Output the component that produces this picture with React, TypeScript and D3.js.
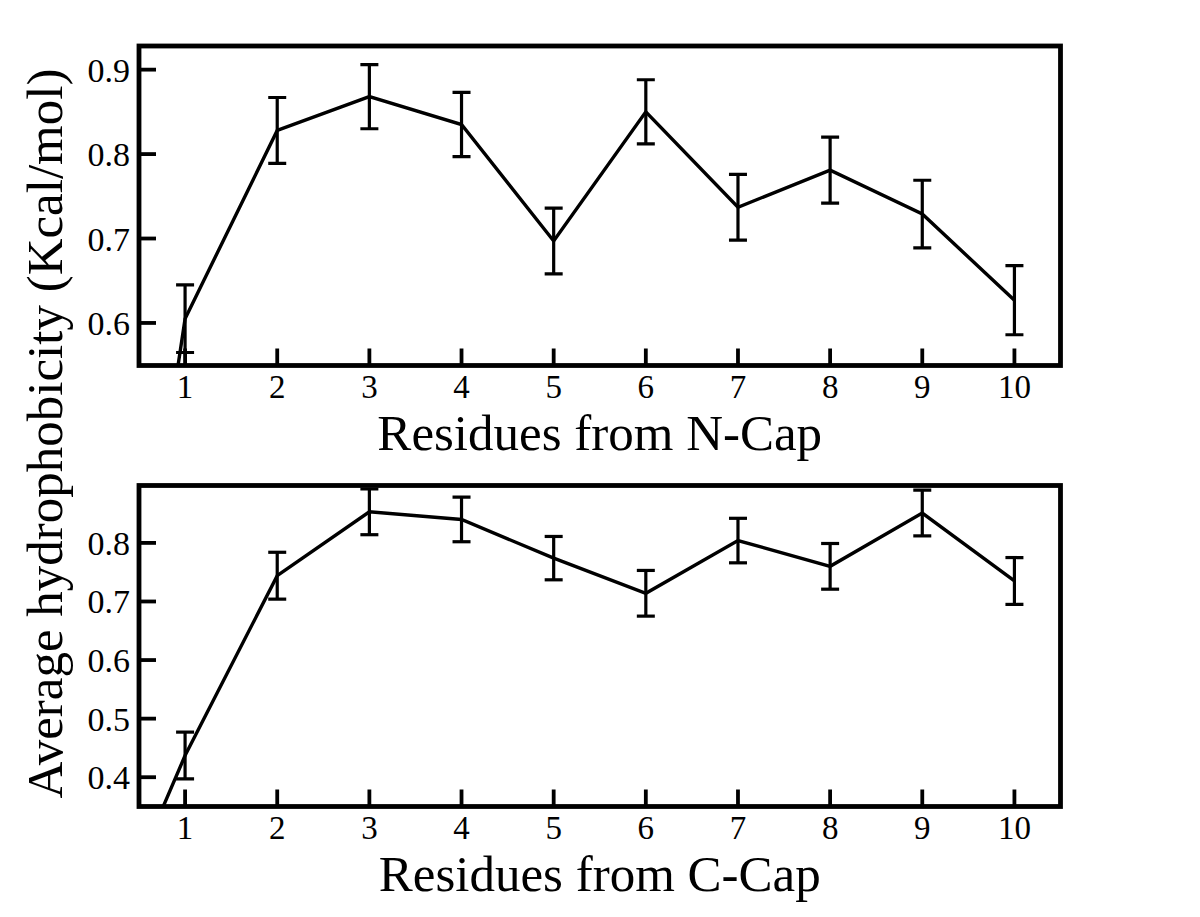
import React from 'react';
import * as d3 from 'd3';

const residues = [0, 1, 2, 3, 4, 5, 6, 7, 8, 9, 10];
const nCapValues = [-0.12, 0.605, 0.828, 0.868, 0.835, 0.697, 0.85, 0.737, 0.781, 0.729, 0.627];
const nCapErrors = [0.04, 0.04, 0.039, 0.038, 0.038, 0.039, 0.038, 0.039, 0.039, 0.04, 0.041];
const cCapValues = [0.07, 0.437, 0.744, 0.853, 0.84, 0.774, 0.714, 0.804, 0.76, 0.851, 0.735];
const cCapErrors = [0.04, 0.04, 0.04, 0.039, 0.038, 0.037, 0.039, 0.038, 0.039, 0.039, 0.04];
const xTickValues = [1, 2, 3, 4, 5, 6, 7, 8, 9, 10];
const nCapYTicks = [0.6, 0.7, 0.8, 0.9];
const cCapYTicks = [0.4, 0.5, 0.6, 0.7, 0.8];

const FONT = "'Liberation Serif', 'Times New Roman', Times, serif";
const LEFT = 139;
const RIGHT = 1060.5;

type PanelProps = {
  id: string;
  top: number;
  bottom: number;
  yDomain: [number, number];
  values: number[];
  errors: number[];
  yTicks: number[];
  title: string;
};

function Panel({ id, top, bottom, yDomain, values, errors, yTicks, title }: PanelProps) {
  const x = d3.scaleLinear().domain([0.5, 10.5]).range([LEFT, RIGHT]);
  const y = d3.scaleLinear().domain(yDomain).range([bottom, top]);
  const pts = residues.map((r, i) => ({ r, v: values[i], e: errors[i] }));
  const line = d3
    .line<{ r: number; v: number }>()
    .x((d) => x(d.r))
    .y((d) => y(d.v));
  const fmt = d3.format('.1f');
  const tickLen = 17;
  const capHalf = 9;
  return (
    <g>
      <defs>
        <clipPath id={id}>
          <rect x={LEFT} y={top} width={RIGHT - LEFT} height={bottom - top} />
        </clipPath>
      </defs>
      <g clipPath={`url(#${id})`}>
        <path d={line(pts) || ''} fill="none" stroke="#000" strokeWidth={3.4} strokeLinejoin="miter" />
        {pts.map((p) => (
          <g key={p.r} stroke="#000" strokeWidth={3.2}>
            <line x1={x(p.r)} x2={x(p.r)} y1={y(p.v - p.e)} y2={y(p.v + p.e)} />
            <line x1={x(p.r) - capHalf} x2={x(p.r) + capHalf} y1={y(p.v + p.e)} y2={y(p.v + p.e)} />
            <line x1={x(p.r) - capHalf} x2={x(p.r) + capHalf} y1={y(p.v - p.e)} y2={y(p.v - p.e)} />
          </g>
        ))}
      </g>
      {xTickValues.map((t) => (
        <g key={`x${t}`}>
          <line x1={x(t)} x2={x(t)} y1={bottom} y2={bottom - tickLen} stroke="#000" strokeWidth={3.8} />
          <text x={x(t)} y={bottom + 32} textAnchor="middle" fontFamily={FONT} fontSize={33} fill="#000">
            {t}
          </text>
        </g>
      ))}
      {yTicks.map((t) => (
        <g key={`y${t}`}>
          <line x1={LEFT} x2={LEFT + tickLen} y1={y(t)} y2={y(t)} stroke="#000" strokeWidth={3.8} />
          <text x={130} y={y(t) + 12} textAnchor="end" fontFamily={FONT} fontSize={34} fill="#000">
            {fmt(t)}
          </text>
        </g>
      ))}
      <rect x={LEFT} y={top} width={RIGHT - LEFT} height={bottom - top} fill="none" stroke="#000" strokeWidth={4.8} />
      <text x={(LEFT + RIGHT) / 2} y={bottom + 84} textAnchor="middle" fontFamily={FONT} fontSize={51} fill="#000">
        {title}
      </text>
    </g>
  );
}

export default function App() {
  return (
    <svg
      width={1200}
      height={917}
      viewBox="0 0 1200 917"
      style={{ position: 'absolute', left: 0, top: 0, background: '#fff' }}
    >
      <rect x={0} y={0} width={1200} height={917} fill="#fff" />
      <Panel
        id="clipN"
        top={46}
        bottom={365.5}
        yDomain={[0.5496, 0.928]}
        values={nCapValues}
        errors={nCapErrors}
        yTicks={nCapYTicks}
        title="Residues from N-Cap"
      />
      <Panel
        id="clipC"
        top={485.5}
        bottom={806.5}
        yDomain={[0.35, 0.898]}
        values={cCapValues}
        errors={cCapErrors}
        yTicks={cCapYTicks}
        title="Residues from C-Cap"
      />
      <text
        transform="translate(62,433.5) rotate(-90)"
        textAnchor="middle"
        fontFamily={FONT}
        fontSize={51}
        fill="#000"
      >
        Average hydrophobicity (Kcal/mol)
      </text>
    </svg>
  );
}
